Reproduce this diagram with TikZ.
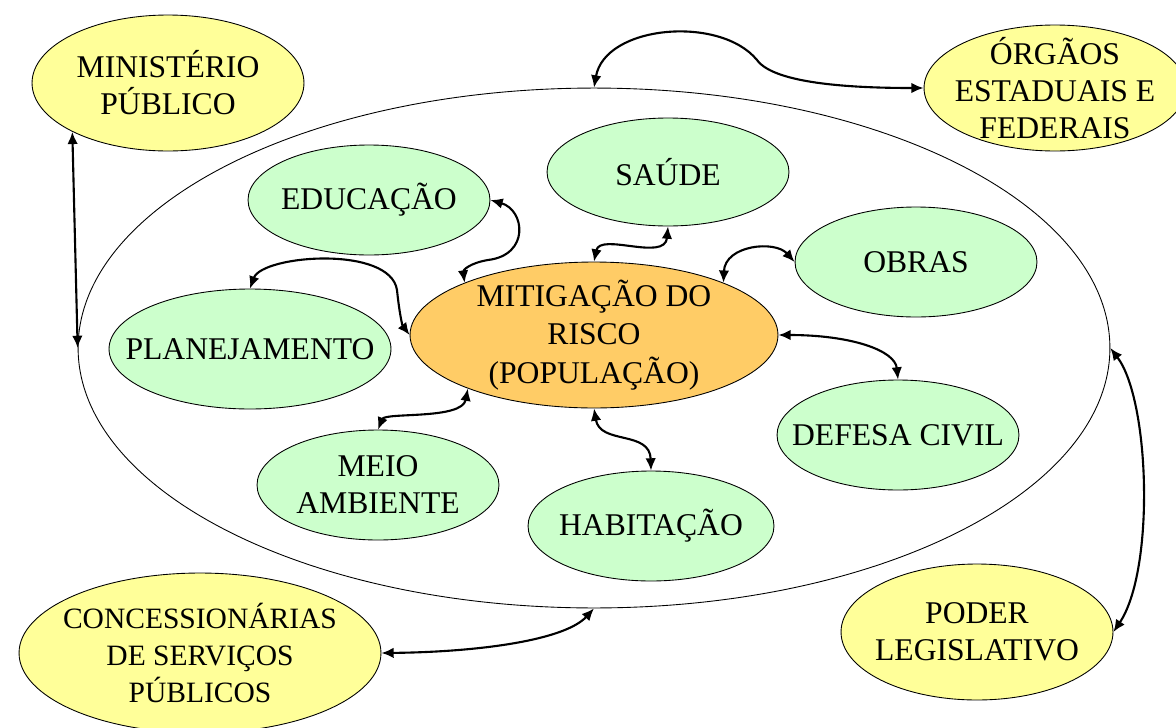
\documentclass[tikz,border=0pt]{standalone}
\usepackage{fontspec}
\setmainfont{Liberation Serif}
\usetikzlibrary{arrows.meta,shapes.geometric}
\definecolor{verde}{HTML}{CCFFCC}
\definecolor{amarelo}{HTML}{FFFF99}
\definecolor{laranja}{HTML}{FFCC66}

\begin{document}
\begin{tikzpicture}[x=0.02cm, y=-0.02cm,
  every label/.style={align=center, font=\fontsize{18}{21}\selectfont},
  elip/.style={ellipse, draw, line width=0.5pt, inner sep=0pt},
  setor/.style={elip, fill=verde, minimum width=4.84cm, minimum height=2.2cm},
  orgao/.style={elip, fill=amarelo},
  link/.style={<->, >={Latex[length=7pt,width=6pt]}, line width=1.2pt}]
\clip (0,0) rectangle (1176,727);
% contorno do municipio
\node[elip, minimum width=20.64cm, minimum height=10.4cm] (big) at (594,348) {};
% orgaos externos
\node[orgao, minimum width=5.44cm, minimum height=2.72cm, label={center:{MINISTÉRIO\\PÚBLICO}}] (min) at (168,83) {};
\node[orgao, minimum width=5.24cm, minimum height=2.52cm, label={center:{ÓRGÃOS\\ESTADUAIS E\\FEDERAIS}}] (org) at (1055,88) {};
\node[orgao, minimum width=7.24cm, minimum height=3.2cm, label={[font=\fontsize{16.8}{21}\selectfont]center:{CONCESSIONÁRIAS\\DE SERVIÇOS\\PÚBLICOS}}] (conc) at (200,653) {};
\node[orgao, minimum width=5.44cm, minimum height=2.72cm, label={center:{PODER\\LEGISLATIVO}}] (pod) at (977,632) {};
% setores
\node[setor, label={center:EDUCAÇÃO}] (edu) at (369,200) {};
\node[setor, minimum height=2.16cm, label={center:SAÚDE}] (sau) at (668,172) {};
\node[setor, label={center:OBRAS}] (obr) at (916,262) {};
\node[setor, minimum width=5.64cm, minimum height=2.4cm, label={center:PLANEJAMENTO}] (plan) at (250,349) {};
\node[setor, label={center:DEFESA CIVIL}] (def) at (898,435) {};
\node[setor, label={center:{MEIO\\AMBIENTE}}] (meio) at (378,485) {};
\node[setor, minimum width=4.92cm, label={center:HABITAÇÃO}] (hab) at (651,526) {};
\node[elip, fill=laranja, minimum width=7.36cm, minimum height=2.92cm, label={[font=\fontsize{18}{22}\selectfont]center:{MITIGAÇÃO DO\\RISCO\\(POPULAÇÃO)}}] (mit) at (594,335) {};
% ligacoes
\draw[link] (big.north) .. controls (605,25) and (720,15) .. (757,60) .. controls (775,85) and (860,88) .. (org.west);
\draw[link] (min.207) -- (big.west);
\draw[link] (conc.east) .. controls (480,652) and (565,640) .. (big.south);
\draw[link] (big.east) .. controls (1150,400) and (1155,570) .. (pod.east);
\draw[link] (edu.east) .. controls (525,210) and (530,255) .. (488,260) .. controls (470,263) and (463,270) .. (mit.158);
\draw[link] (mit.north) .. controls (600,232) and (665,262) .. (sau.south);
\draw[link] (mit.22) .. controls (725,245) and (775,240) .. (obr.west);
\draw[link] (plan.north) .. controls (262,255) and (390,245) .. (397,290) .. controls (399,310) and (402,325) .. (mit.west);
\draw[link] (mit.203) .. controls (462,420) and (385,412) .. (meio.north);
\draw[link] (mit.south) .. controls (600,445) and (650,430) .. (hab.north);
\draw[link] (mit.east) .. controls (850,335) and (895,350) .. (def.north);
\end{tikzpicture}
\end{document}
